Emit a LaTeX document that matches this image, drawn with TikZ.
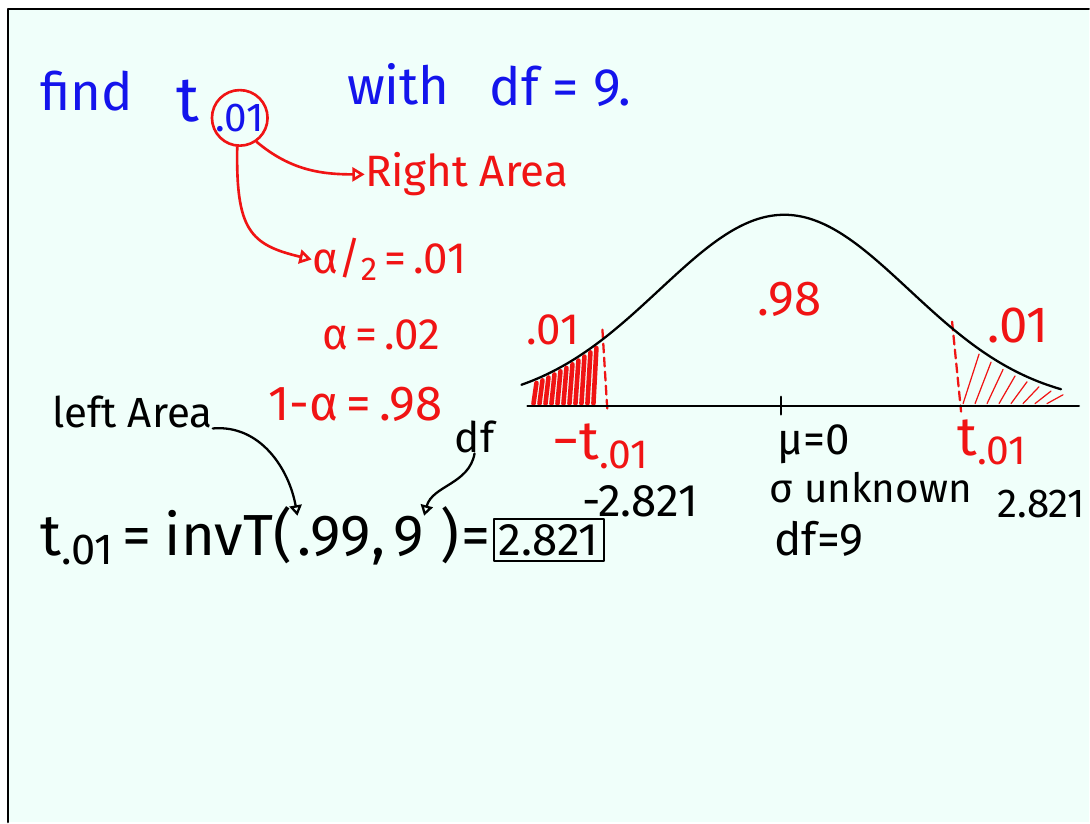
\documentclass[tikz,border=0pt]{standalone}
\usepackage{fontspec}
\usepackage{graphicx}
\setmainfont{Fira Sans}
\usetikzlibrary{arrows.meta,positioning}

\definecolor{board}{HTML}{F0FFFA}
\definecolor{inkred}{HTML}{F01414}
\definecolor{inkblue}{HTML}{1414EC}

\newcommand{\lowsub}[1]{\raisebox{-0.3ex}{\scalebox{0.75}{#1}}}

\begin{document}
\begin{tikzpicture}[
    x=0.02cm,
    y=-0.02cm,
    line cap=round,
    line join=round,
    declare function={bell(\x)=406-191*exp(-0.5*((\x-785)/125)^2);},
    bluetxt/.style={
        text=inkblue,
        font=\fontsize{30}{34}\selectfont,
        inner sep=0pt,
        anchor=base west
    },
    redtxt/.style={
        text=inkred,
        font=\fontsize{25}{29}\selectfont,
        inner sep=0pt,
        anchor=base west
    },
    blacktxt/.style={
        text=black,
        font=\fontsize{24}{28}\selectfont,
        inner sep=0pt,
        anchor=base west
    },
    eqtxt/.style={
        text=black,
        font=\fontsize{33}{37}\selectfont,
        inner sep=0pt,
        anchor=base west
    },
    redarrow/.style={
        draw=inkred,
        line width=1.5pt,
        -{Triangle[open,length=7pt,width=8pt]}
    },
    blackarrow/.style={
        draw=black,
        line width=1.3pt,
        -{Triangle[open,length=6pt,width=7pt]}
    },
    cutline/.style={
        draw=inkred,
        line width=1.3pt,
        dashed,
        dash pattern=on 5pt off 3pt
    }
]

% -------------------------------------------------
% Лист
% -------------------------------------------------

\fill[white] (0,0) rectangle (1090,823);
\fill[board] (8,9) rectangle (1090,823);
\draw[line width=1.2pt] (8,823) -- (8,9) -- (1090,9);
\useasboundingbox (0,0) rectangle (1090,823);

% -------------------------------------------------
% Условие
% -------------------------------------------------

\node[bluetxt] (find) at (40,111) {find};
\node[bluetxt, font=\fontsize{36}{40}\selectfont] (tee) at (176,122) {t};
\node[circle, draw=inkred, line width=1.5pt, minimum size=1.08cm,
      inner sep=0pt, text=inkblue, font=\fontsize{23}{26}\selectfont]
      (sub) at (240,118) {.01};
\node[bluetxt] (with) at (347,105) {with};
\node[bluetxt] (dfnine) at (490,106) {df = 9.};

% Пояснения к индексу
\node[redtxt] (right) at (365,187) {Right Area};
\node[redtxt] (half) at (312,274) {α/\lowsub{2}\,=\,.01};
\node[redtxt] (alpha) at (322,350) {α\,=\,.02};
\node[redtxt, font=\fontsize{28}{32}\selectfont] (conf) at (268,421) {1-α\,=\,.98};

\draw[redarrow] (sub.-55) to[out=-40, in=180] (right.west);
\draw[redarrow] (sub.-95) .. controls (236,230) and (250,245) .. (half.west);

% -------------------------------------------------
% Вычисление
% -------------------------------------------------

\node[blacktxt] (left) at (52,428) {left Area};
\node[blacktxt] (dflab) at (455,453) {df};

\node[eqtxt] (lhs) at (40,556) {t\lowsub{.01}\,=};
\node[eqtxt] (inv) at ([xshift=7pt]lhs.base east) {invT(};
\node[eqtxt] (prob) at ([xshift=3pt]inv.base east) {.99};
\node[eqtxt] (comma) at (prob.base east) {,};
\node[eqtxt] (nine) at ([xshift=4pt]comma.base east) {9};
\node[eqtxt] (close) at ([xshift=9pt]nine.base east) {)};
\node[eqtxt] (eq) at ([xshift=1pt]close.base east) {=};
\node[draw, line width=1.3pt, inner sep=3pt, anchor=base west,
      font=\fontsize{26}{30}\selectfont] (ans) at ([xshift=1pt]eq.base east) {2.821};

\draw[blackarrow] (left.south east) to[out=5, in=100] (prob.north west);
\draw[blackarrow] (dflab.south) to[out=-100, in=75] (nine.north east);

% -------------------------------------------------
% Распределение
% -------------------------------------------------

\coordinate (axisL) at (528,406);
\coordinate (axisR) at (1080,406);
\coordinate (mu) at (782,406);

% Хвосты
\foreach \h in {534,540,...,598}
    \draw[inkred, line width=2.6pt] (\h,404) -- (\h+3,{bell(\h+3)+4});
\foreach \h in {964,976,...,1052}
    \draw[inkred, line width=0.7pt] (\h,404) -- (\h+16,{bell(\h+16)+5});

\draw[cutline] (603,330) -- (608,412);
\draw[cutline] (953,322) -- (962,412);

\draw[line width=1.2pt] (axisL) -- (axisR);
\draw[line width=1.4pt] ([yshift=5pt]mu) -- ([yshift=-5pt]mu);
\draw[line width=1.3pt]
    plot[domain=522:1062, samples=90, smooth] (\x,{bell(\x)});

% Подписи
\node[redtxt, font=\fontsize{28}{32}\selectfont] (mid) at (758,316) {.98};
\node[redtxt] (tailL) at (527,345) {.01};
\node[redtxt, font=\fontsize{29}{33}\selectfont] (tailR) at (988,343) {.01};

\node[redtxt, font=\fontsize{31}{35}\selectfont] (negt) at (553,460) {−t\lowsub{.01}};
\node[blacktxt, font=\fontsize{25}{29}\selectfont] (mulab) at (778,455) {μ=0};
\node[redtxt, font=\fontsize{31}{35}\selectfont] (post) at (958,456) {t\lowsub{.01}};

\node[blacktxt, font=\fontsize{26}{30}\selectfont] (negval) at (583,517) {-2.821};
\node[blacktxt, font=\fontsize{23}{27}\selectfont] (sigma) at (770,503) {σ unknown};
\node[blacktxt, font=\fontsize{23}{27}\selectfont] (posval) at (998,518) {2.821};
\node[blacktxt, font=\fontsize{26}{30}\selectfont] (dfval) at (775,556) {df=9};

\end{tikzpicture}
\end{document}
